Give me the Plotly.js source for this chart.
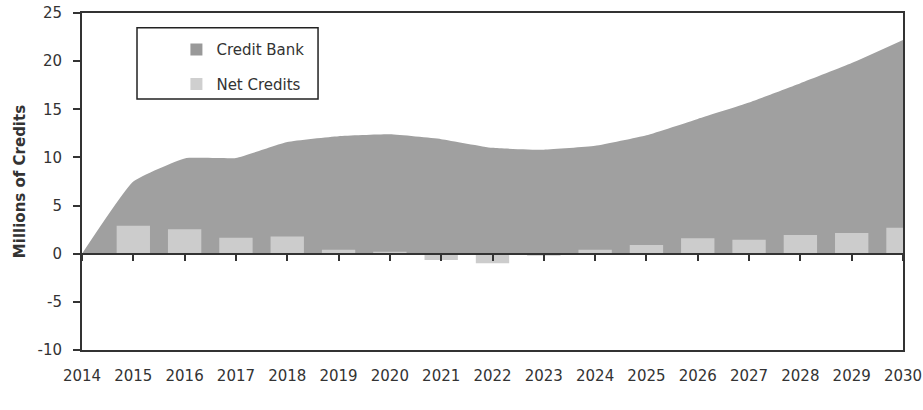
<!DOCTYPE html>
<html>
<head>
<meta charset="utf-8">
<script src="https://cdn.plot.ly/plotly-3.0.1.min.js"></script>
<style>
  html, body { margin: 0; padding: 0; background: #fff; }
  #chart { width: 923px; height: 410px; }
</style>
</head>
<body>
<div id="chart"></div>
<script>
// Data
const years = [2014, 2015, 2016, 2017, 2018, 2019, 2020, 2021, 2022, 2023, 2024, 2025, 2026, 2027, 2028, 2029, 2030];
const creditBank = [0, 7.5, 9.9, 9.95, 11.6, 12.2, 12.4, 11.9, 11.0, 10.8, 11.2, 12.3, 14.0, 15.7, 17.7, 19.8, 22.2];
const barYears = [2015, 2016, 2017, 2018, 2019, 2020, 2021, 2022, 2023, 2024, 2025, 2026, 2027, 2028, 2029, 2030];
const netCredits = [2.9, 2.55, 1.65, 1.8, 0.4, 0.2, -0.65, -1.0, -0.2, 0.4, 0.9, 1.6, 1.45, 1.95, 2.15, 2.7];
const seriesNames = ['Credit Bank', 'Net Credits'];
const yTitle = 'Millions of Credits';
const yTickVals = [-10, -5, 0, 5, 10, 15, 20, 25];
const yTickText = ['-10', '-5', '0', '5', '10', '15', '20', '25'];

const areaColor = '#a0a0a0';
const barColor = '#cccccc';
const font = 'DejaVu Sans, Verdana, sans-serif';

const traces = [
  {
    type: 'scatter', x: years, y: creditBank, mode: 'lines',
    line: { width: 0, shape: 'spline', smoothing: 0.4, color: areaColor },
    fill: 'tozeroy', fillcolor: areaColor, showlegend: false,
    xaxis: 'x', yaxis: 'y'
  },
  {
    type: 'bar', x: barYears, y: netCredits, width: 0.65,
    marker: { color: barColor }, showlegend: false,
    xaxis: 'x2', yaxis: 'y2'
  },
  // legend-only entries (square swatches)
  { type: 'bar', x: [null], y: [null], name: seriesNames[0], marker: { color: '#999999' }, legendgroup: 'a', xaxis: 'x2', yaxis: 'y2' },
  { type: 'bar', x: [null], y: [null], name: seriesNames[1], marker: { color: '#cfcfcf' }, legendgroup: 'b', xaxis: 'x2', yaxis: 'y2' }
];

const layout = {
  width: 923, height: 410,
  margin: { l: 82, r: 20, t: 13, b: 60 },
  paper_bgcolor: '#ffffff', plot_bgcolor: '#ffffff',
  font: { family: font, size: 15, color: '#333333' },
  showlegend: true,
  barmode: 'overlay',
  legend: {
    x: 0.115, y: 0.94, xanchor: 'left', yanchor: 'top',
    bgcolor: 'rgba(0,0,0,0)', borderwidth: 0,
    font: { family: font, size: 15, color: '#333333' },
    traceorder: 'grouped', tracegroupgap: 12
  },
  xaxis: {
    range: [2014, 2030], dtick: 1, tick0: 2014,
    showgrid: false, zeroline: false,
    showline: true, mirror: true, linecolor: '#333333', linewidth: 2,
    ticks: '', ticklabelstandoff: 11,
    tickfont: { family: font, size: 15, color: '#333333' },
    layer: 'below traces', fixedrange: true
  },
  yaxis: {
    range: [-10, 25], tickmode: 'array', tickvals: yTickVals, ticktext: yTickText,
    showgrid: false, zeroline: false,
    showline: true, mirror: true, linecolor: '#333333', linewidth: 2,
    ticks: 'outside', ticklen: 7, tickwidth: 2, tickcolor: '#333333',
    ticklabelstandoff: 8,
    tickfont: { family: font, size: 15, color: '#333333' },
    title: { text: yTitle, font: { family: font, size: 15, color: '#333333', weight: 'bold' }, standoff: 8 },
    layer: 'below traces', fixedrange: true
  },
  xaxis2: {
    overlaying: 'x', range: [2014, 2030], dtick: 1, tick0: 2014,
    anchor: 'free', position: 10 / 35,
    showgrid: false, zeroline: false,
    showline: true, linecolor: '#333333', linewidth: 2,
    ticks: 'outside', ticklen: 6, tickwidth: 2, tickcolor: '#333333',
    showticklabels: false, fixedrange: true
  },
  yaxis2: {
    overlaying: 'y', range: [-10, 25], visible: false, fixedrange: true
  },
  shapes: [
    {
      type: 'rect', xref: 'paper', yref: 'paper',
      x0: 0.067, x1: 0.2875, y0: 0.745, y1: 0.956,
      line: { color: '#222222', width: 1.5 }, fillcolor: 'rgba(0,0,0,0)'
    }
  ]
};

Plotly.newPlot('chart', traces, layout, { displayModeBar: false, staticPlot: true });
</script>
</body>
</html>
